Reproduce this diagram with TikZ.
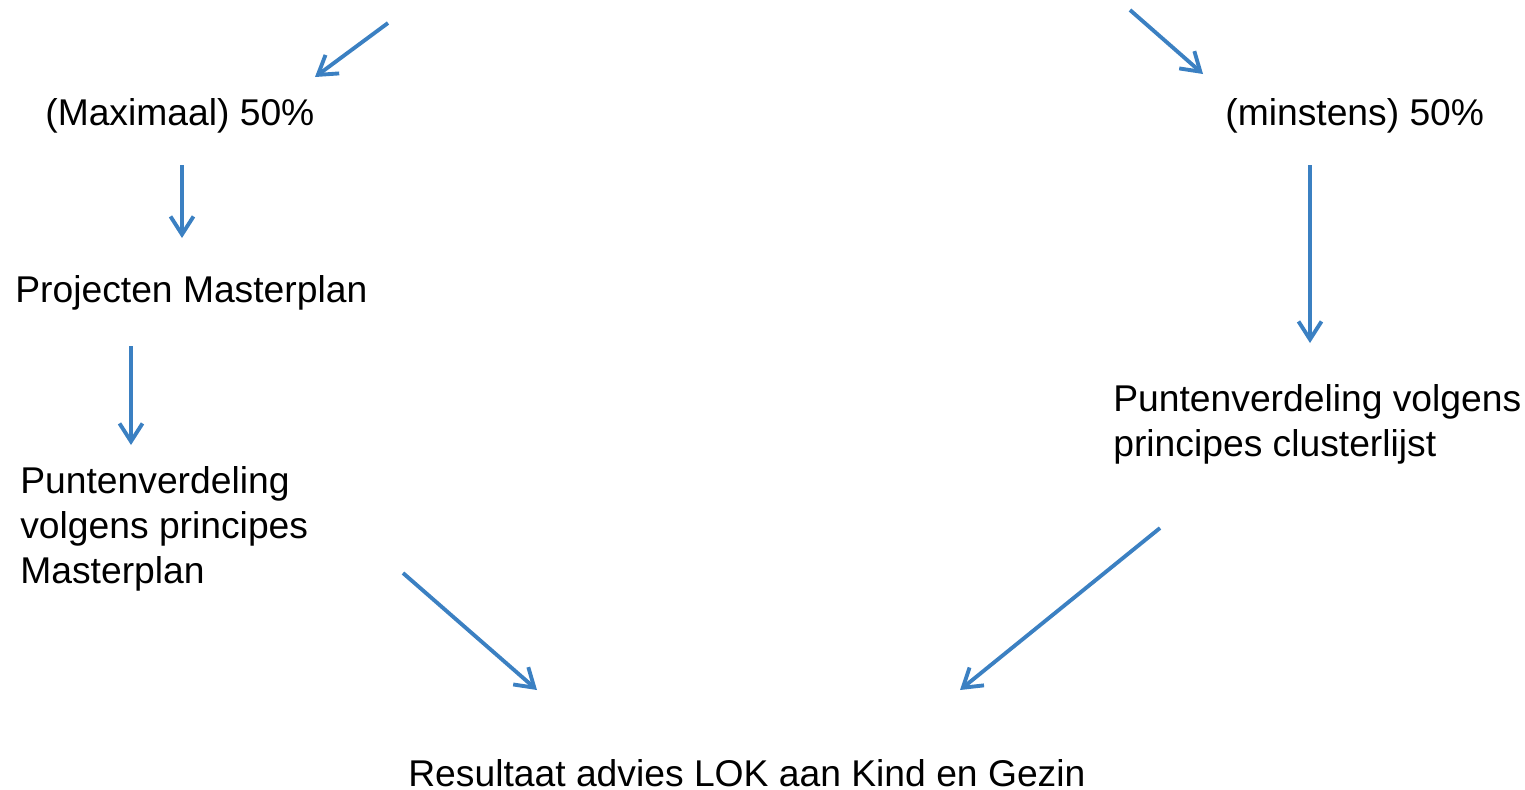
\documentclass[tikz,border=0pt]{standalone}
\usepackage{fontspec}
\setmainfont{Liberation Sans}
\usetikzlibrary{arrows.meta}
\definecolor{flowblue}{RGB}{59,128,194}

\begin{document}
\begin{tikzpicture}[x=0.02cm, y=-0.02cm, every node/.style={font=\fontsize{21.2pt}{25.6pt}\selectfont, inner sep=0pt}]
    \tikzstyle{oneline} = [anchor=west, text height=15pt, text depth=0pt]
    \tikzstyle{block} = [anchor=north west, align=left]
    \tikzstyle{flow} = [draw=flowblue, line width=2.2pt, -{Straight Barb[length=0.36cm, width=0.46cm]}]

    \useasboundingbox (0,0) rectangle (1525,789);

    % Shares
    \node [oneline] (maxshare) at (45,112) {(Maximaal) 50\%};
    \node [oneline] (minshare) at (1225,112) {(minstens) 50\%};

    % Left branch
    \node [oneline] (projects) at (15,289) {Projecten Masterplan};
    \node [block] (masterpts) at (20,466) {Puntenverdeling\\volgens principes\\Masterplan};

    % Right branch
    \node [block] (clusterpts) at (1113,384) {Puntenverdeling volgens\\principes clusterlijst};

    % Result
    \node [oneline] (result) at (408,773) {Resultaat advies LOK aan Kind en Gezin};

    % Incoming ends
    \coordinate (srcleft) at (388,23);
    \coordinate (srcright) at (1130,10);

    % Connections
    \draw [flow] (srcleft) -- ([shift={(270,-35)}]maxshare.west);
    \draw [flow] (srcright) -- ([shift={(-22,-38)}]minshare.west);

    \draw [flow] ([shift={(137,53)}]maxshare.west) -- ([shift={(167,-51)}]projects.west);
    \draw [flow] ([shift={(116,57)}]projects.west) -- ([shift={(111,-21)}]masterpts.north west);
    \draw [flow] ([shift={(85,53)}]minshare.west) -- ([shift={(197,-41)}]clusterpts.north west);

    \draw [flow] ([shift={(383,107)}]masterpts.north west) -- ([shift={(129,-83)}]result.west);
    \draw [flow] ([shift={(47,144)}]clusterpts.north west) -- ([shift={(552,-83)}]result.west);
\end{tikzpicture}
\end{document}
